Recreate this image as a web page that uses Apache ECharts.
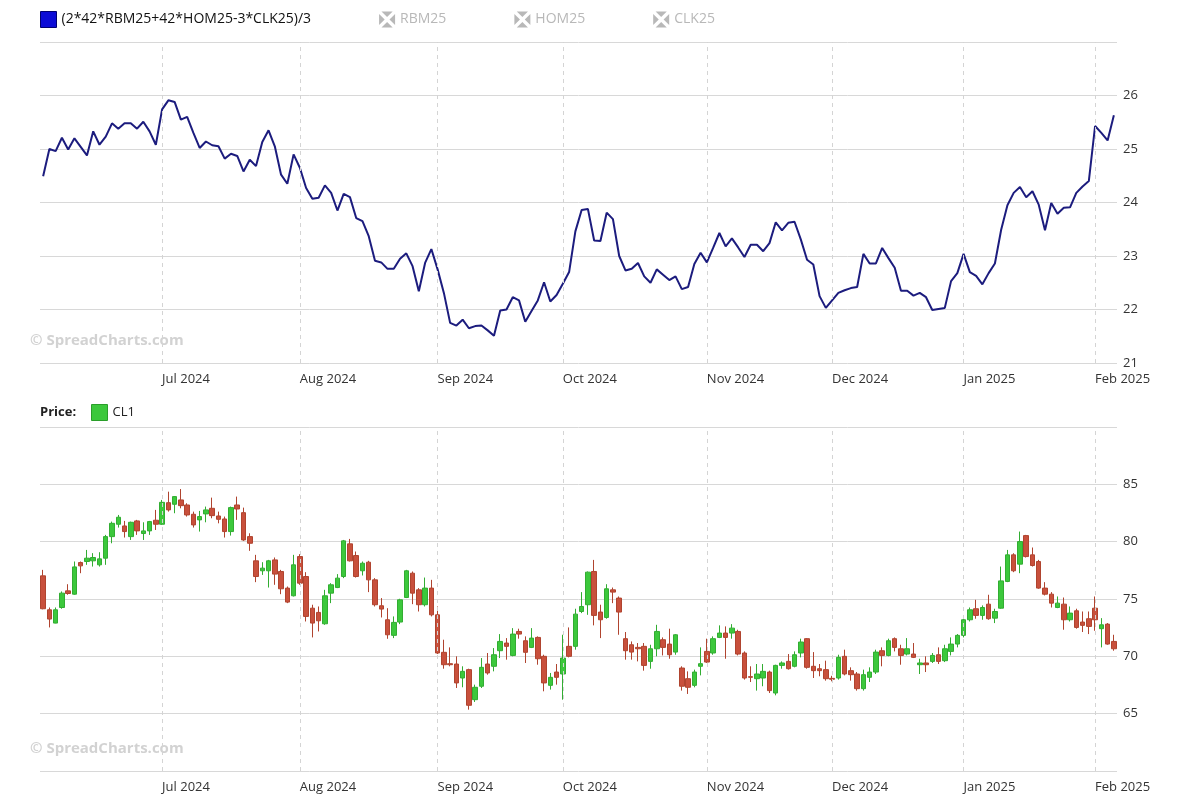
<!DOCTYPE html>
<html>
  <head>
    <meta charset="UTF-8" />
    <title>Spread vs CL1</title>
    <script src="https://cdn.jsdelivr.net/npm/echarts@6.0.0/dist/echarts.min.js"></script>
    <style>
      body { margin: 0; background: #fff; }
    </style>
  </head>
  <body>
    <div id="spreadChart" style="width: 1200px; height: 800px"></div>
  </body>
  <script>
// trading calendar (categories)
const firstDay = '2024-06-03';
const lastDay = '2025-02-06';
const holidays = ['2024-06-19', '2024-07-04', '2024-09-02', '2024-11-28', '2024-12-25', '2025-01-01', '2025-01-20'];

// spread (2*42*RBM25+42*HOM25-3*CLK25)/3, one value per trading day
const spreadValues = [
  24.49, 25.00, 24.96, 25.21, 24.99, 25.20, 25.04, 24.88, 25.33, 25.08,
  25.23, 25.48, 25.38, 25.48, 25.48, 25.38, 25.51, 25.33, 25.08, 25.74,
  25.91, 25.88, 25.55, 25.60, 25.30, 25.02, 25.14, 25.07, 25.05, 24.82,
  24.91, 24.87, 24.58, 24.80, 24.68, 25.13, 25.35, 25.05, 24.52, 24.35,
  24.90, 24.65, 24.27, 24.07, 24.09, 24.32, 24.18, 23.85, 24.16, 24.10,
  23.71, 23.65, 23.37, 22.91, 22.88, 22.76, 22.76, 22.95, 23.05, 22.81,
  22.34, 22.87, 23.13, 22.75, 22.31, 21.75, 21.70, 21.81, 21.65, 21.69,
  21.70, 21.61, 21.51, 21.98, 22.00, 22.23, 22.17, 21.77, 21.97, 22.17,
  22.51, 22.15, 22.27, 22.48, 22.70, 23.46, 23.86, 23.88, 23.29, 23.28,
  23.81, 23.69, 23.00, 22.73, 22.76, 22.87, 22.62, 22.50, 22.75, 22.65,
  22.55, 22.62, 22.38, 22.42, 22.85, 23.06, 22.88, 23.15, 23.43, 23.18,
  23.33, 23.16, 22.98, 23.21, 23.21, 23.09, 23.24, 23.63, 23.48, 23.62,
  23.64, 23.31, 22.93, 22.84, 22.25, 22.03, 22.17, 22.31, 22.36, 22.40,
  22.42, 23.04, 22.86, 22.86, 23.15, 22.96, 22.78, 22.35, 22.35, 22.26,
  22.31, 22.23, 21.99, 22.01, 22.03, 22.53, 22.68, 23.04, 22.70, 22.63,
  22.47, 22.68, 22.86, 23.49, 23.95, 24.18, 24.29, 24.10, 24.21, 23.96,
  23.48, 23.99, 23.79, 23.90, 23.91, 24.18, 24.30, 24.40, 25.43, 25.30,
  25.16, 25.63
];

// CL1 daily candles
const clOpen = [
  77.02, 74.06, 72.90, 74.26, 75.71, 75.42, 78.18, 78.27, 78.33, 77.98,
  78.56, 80.44, 81.52, 81.37, 80.44, 81.81, 80.71, 80.94, 81.87, 81.52,
  83.40, 83.26, 83.64, 83.20, 82.39, 81.90, 82.42, 82.91, 82.24, 81.98,
  80.88, 83.20, 82.53, 80.44, 78.33, 77.46, 77.46, 78.41, 77.40, 75.95,
  75.28, 78.70, 76.96, 74.20, 73.83, 72.84, 75.51, 76.00, 76.96, 79.81,
  78.79, 77.46, 78.21, 76.67, 74.41, 73.19, 71.83, 72.99, 75.13, 77.25,
  75.80, 74.50, 75.95, 73.62, 70.35, 69.36, 69.33, 68.11, 68.84, 66.22,
  67.39, 69.33, 69.13, 70.49, 71.16, 70.08, 72.17, 71.36, 70.78, 71.65,
  70.00, 67.47, 68.63, 68.46, 70.87, 70.87, 73.91, 74.50, 77.40, 73.86,
  73.39, 75.80, 75.08, 71.54, 71.01, 70.78, 70.87, 69.56, 70.66, 71.45,
  71.07, 70.37, 68.98, 68.05, 67.47, 69.13, 70.43, 70.29, 71.65, 72.03,
  72.03, 72.17, 70.29, 68.23, 68.05, 68.11, 68.63, 66.80, 69.21, 69.56,
  69.13, 70.29, 71.54, 69.13, 68.92, 68.84, 68.08, 68.11, 70.00, 68.75,
  68.46, 67.18, 68.17, 68.63, 70.49, 70.08, 71.54, 70.66, 70.20, 70.20,
  69.27, 69.42, 69.56, 70.14, 69.62, 70.43, 71.07, 71.83, 73.19, 74.15,
  73.57, 74.55, 73.33, 74.20, 76.53, 78.85, 78.04, 80.53, 78.85, 78.27,
  75.95, 75.42, 74.26, 74.55, 73.19, 73.97, 72.99, 73.28, 74.20, 72.41,
  72.81, 71.30
];
const clClose = [
  74.15, 73.25, 74.06, 75.51, 75.48, 77.80, 77.89, 78.56, 78.62, 78.50,
  80.44, 81.60, 82.13, 80.88, 81.69, 80.94, 80.94, 81.75, 81.52, 83.43,
  82.77, 83.93, 83.14, 82.33, 81.46, 82.19, 82.77, 82.27, 81.95, 80.88,
  82.97, 82.85, 80.15, 79.86, 76.96, 77.69, 78.33, 77.17, 75.89, 74.73,
  77.98, 76.38, 73.48, 72.90, 73.10, 75.28, 76.24, 76.82, 80.07, 78.33,
  76.96, 78.12, 76.67, 74.50, 74.12, 71.88, 72.96, 74.93, 77.46, 75.51,
  74.50, 75.95, 73.62, 70.29, 69.27, 69.27, 67.68, 68.69, 65.73, 67.30,
  69.04, 68.55, 70.14, 71.30, 70.87, 71.94, 71.94, 70.35, 71.59, 69.79,
  67.68, 68.17, 68.17, 69.85, 70.00, 73.68, 74.35, 77.34, 73.57, 73.19,
  75.89, 75.60, 73.86, 70.49, 70.37, 70.66, 69.21, 70.66, 72.17, 70.78,
  70.14, 71.88, 67.39, 67.30, 68.63, 69.36, 69.50, 71.54, 72.03, 71.65,
  72.46, 70.20, 68.11, 68.17, 68.46, 68.69, 67.01, 69.21, 69.42, 68.92,
  70.14, 71.25, 69.04, 68.75, 68.75, 68.05, 68.00, 69.91, 68.46, 68.40,
  67.18, 68.40, 68.63, 70.37, 70.08, 71.36, 70.78, 70.08, 70.66, 69.91,
  69.42, 69.27, 70.08, 69.56, 70.66, 71.07, 71.83, 73.19, 74.06, 73.57,
  74.26, 73.28, 73.91, 76.58, 78.85, 77.46, 80.01, 78.70, 77.92, 75.95,
  75.42, 74.64, 74.64, 73.19, 73.77, 72.52, 72.70, 72.61, 73.19, 72.75,
  71.07, 70.66
];
const clLow = [
  74.10, 72.52, 72.88, 74.15, 75.37, 75.37, 77.25, 77.98, 77.83, 77.83,
  77.98, 79.86, 81.23, 80.36, 80.15, 80.59, 80.15, 80.59, 81.02, 81.46,
  82.62, 82.48, 82.91, 82.19, 81.23, 80.88, 81.69, 82.04, 81.60, 80.36,
  80.53, 81.90, 80.07, 79.20, 76.47, 77.10, 76.00, 76.24, 75.42, 74.64,
  75.22, 76.24, 73.04, 71.65, 72.17, 72.75, 74.64, 75.95, 76.82, 78.27,
  76.87, 77.05, 75.60, 74.35, 73.39, 71.53, 71.59, 72.81, 75.08, 74.55,
  73.91, 74.35, 73.48, 70.20, 68.92, 69.13, 67.24, 67.30, 65.35, 66.02,
  67.24, 68.40, 68.69, 69.85, 69.71, 70.00, 71.54, 69.42, 70.72, 69.27,
  66.95, 67.10, 67.53, 66.22, 69.91, 70.58, 73.77, 73.62, 72.70, 71.59,
  73.28, 74.64, 71.88, 69.71, 69.71, 69.56, 68.75, 68.92, 70.00, 70.08,
  69.79, 70.14, 67.01, 66.72, 67.30, 68.34, 69.42, 70.14, 71.59, 69.79,
  71.54, 70.08, 67.97, 67.76, 67.01, 67.39, 66.80, 66.60, 68.92, 68.84,
  69.04, 69.91, 68.92, 68.11, 68.26, 67.88, 67.82, 67.97, 68.34, 67.88,
  67.01, 67.01, 67.76, 68.46, 69.13, 70.00, 70.43, 69.27, 70.08, 69.85,
  68.46, 68.63, 69.42, 69.33, 69.50, 70.08, 70.78, 71.65, 73.04, 73.28,
  73.19, 73.19, 72.90, 74.15, 76.47, 77.34, 77.25, 78.62, 77.83, 75.89,
  75.31, 74.26, 74.20, 72.32, 73.04, 72.41, 72.12, 71.94, 72.23, 70.78,
  71.01, 70.49
];
const clHigh = [
  77.54, 74.26, 74.26, 75.66, 76.29, 78.27, 78.27, 79.28, 79.00, 79.08,
  80.59, 81.75, 82.33, 81.81, 81.75, 81.90, 81.69, 81.81, 82.77, 83.64,
  84.36, 83.98, 84.59, 83.35, 82.62, 82.68, 83.06, 83.84, 82.62, 82.19,
  83.06, 83.93, 82.97, 80.73, 78.85, 78.21, 78.41, 78.62, 77.54, 76.09,
  78.85, 78.91, 77.34, 74.50, 74.35, 75.80, 76.38, 77.17, 80.15, 80.24,
  79.14, 78.27, 78.33, 76.82, 75.08, 74.20, 73.48, 75.02, 77.54, 77.40,
  75.95, 76.87, 76.67, 74.35, 71.45, 70.78, 70.00, 69.13, 68.92, 67.53,
  69.85, 70.29, 70.72, 71.94, 71.59, 72.46, 72.41, 71.74, 72.46, 71.74,
  70.14, 68.55, 69.33, 71.88, 72.52, 74.15, 75.60, 77.40, 78.41, 74.50,
  76.29, 76.00, 75.22, 72.12, 71.30, 71.16, 71.16, 71.01, 72.75, 71.65,
  72.41, 71.94, 69.13, 68.69, 68.84, 70.78, 71.54, 71.74, 72.70, 72.61,
  72.81, 72.32, 70.43, 69.13, 69.33, 69.33, 68.75, 69.27, 69.56, 70.20,
  70.43, 71.54, 71.59, 70.37, 69.33, 69.62, 68.30, 70.14, 70.58, 69.04,
  68.63, 68.84, 69.04, 70.58, 70.78, 71.54, 71.65, 71.01, 71.59, 71.16,
  69.79, 70.00, 70.29, 70.78, 71.01, 71.65, 71.94, 73.57, 74.26, 74.93,
  74.44, 75.37, 74.15, 77.83, 79.28, 78.99, 80.88, 80.59, 79.49, 78.41,
  76.47, 75.60, 75.22, 75.13, 74.35, 74.15, 73.91, 73.91, 75.22, 73.33,
  72.90, 71.88
];

const monthNames = ['Jan', 'Feb', 'Mar', 'Apr', 'May', 'Jun', 'Jul', 'Aug', 'Sep', 'Oct', 'Nov', 'Dec'];

// build trading days list
let tradingDays = [];
let d = new Date(firstDay + 'T00:00:00Z');
const stop = new Date(lastDay + 'T00:00:00Z');
while (d <= stop) {
  const key = d.toISOString().slice(0, 10);
  const wd = d.getUTCDay();
  if (wd !== 0 && wd !== 6 && !holidays.includes(key)) tradingDays.push(key);
  d.setUTCDate(d.getUTCDate() + 1);
}

// first trading day of each month (skip the first category)
let monthStarts = [];
tradingDays.forEach((day, i) => {
  if (i > 0 && day.slice(5, 7) !== tradingDays[i - 1].slice(5, 7)) monthStarts.push(i);
});

const candleData = clOpen.map((o, i) => [o, clClose[i], clLow[i], clHigh[i]]);

const FONT = '"Open Sans", sans-serif';
const monthLines = {
  silent: true,
  symbol: ['none', 'none'],
  label: { show: false },
  lineStyle: { type: [4, 4], color: '#d4d4d4', width: 1 },
  data: monthStarts.map(i => ({ xAxis: tradingDays[i] }))
};

function xAxisFor(gridIndex) {
  return {
    type: 'category',
    gridIndex: gridIndex,
    data: tradingDays,
    boundaryGap: true,
    axisLine: { show: false },
    axisTick: { show: false },
    splitLine: { show: false },
    axisLabel: {
      interval: (idx) => monthStarts.includes(idx),
      align: 'left',
      margin: 10,
      color: '#333',
      fontSize: 13,
      fontFamily: FONT,
      formatter: (v) => monthNames[parseInt(v.slice(5, 7)) - 1] + ' ' + v.slice(0, 4)
    }
  };
}

const xIcon = 'path://M1.5,0L8.5,0L5,3.5Z M10,1.5L10,8.5L6.5,5Z M8.5,10L1.5,10L5,6.5Z M0,8.5L0,1.5L3.5,5Z';

let myChart = echarts.init(document.getElementById('spreadChart'));

myChart.setOption({
  animation: false,
  textStyle: { fontFamily: FONT },
  legend: [
    {
      left: 35,
      top: 6,
      itemWidth: 16,
      itemHeight: 16,
      itemGap: 68,
      inactiveColor: '#b8b8b8',
      textStyle: { fontSize: 14, color: '#111', fontFamily: FONT },
      selected: { RBM25: false, HOM25: false, CLK25: false },
      data: [
        { name: '(2*42*RBM25+42*HOM25-3*CLK25)/3', icon: 'rect', itemStyle: { color: '#0c0cd6', borderColor: '#000070', borderWidth: 1 } },
        { name: 'RBM25', icon: xIcon },
        { name: 'HOM25', icon: xIcon },
        { name: 'CLK25', icon: xIcon }
      ]
    },
    {
      left: 86,
      top: 399,
      itemWidth: 16,
      itemHeight: 16,
      textStyle: { fontSize: 13, color: '#222', fontFamily: FONT },
      data: [
        { name: 'CL1', icon: 'rect', itemStyle: { color: '#3cc83c', borderColor: '#2a9e2a', borderWidth: 1 } }
      ]
    }
  ],
  graphic: [
    { type: 'text', left: 40, top: 406, style: { text: 'Price:', font: 'bold 13px "Open Sans"', fill: '#222' } },
    { type: 'text', left: 30, top: 333, z: -1, style: { text: '© SpreadCharts.com', font: 'bold 15px "Open Sans"', fill: '#d2d2d2' } },
    { type: 'text', left: 30, top: 741, z: -1, style: { text: '© SpreadCharts.com', font: 'bold 15px "Open Sans"', fill: '#d2d2d2' } }
  ],
  grid: [
    { left: 40, right: 83, top: 42, height: 321 },
    { left: 40, right: 83, top: 427, height: 344 }
  ],
  xAxis: [xAxisFor(0), xAxisFor(1)],
  yAxis: [
    {
      type: 'value',
      gridIndex: 0,
      position: 'right',
      min: 21,
      max: 27,
      interval: 1,
      axisLine: { show: false },
      axisTick: { show: false },
      splitLine: { lineStyle: { color: '#d8d8d8' } },
      axisLabel: { showMaxLabel: false, margin: 6, color: '#333', fontSize: 13, fontFamily: FONT }
    },
    {
      type: 'value',
      gridIndex: 1,
      position: 'right',
      min: 60,
      max: 90,
      interval: 5,
      axisLine: { show: false },
      axisTick: { show: false },
      splitLine: { lineStyle: { color: '#d8d8d8' } },
      axisLabel: { showMaxLabel: false, showMinLabel: false, margin: 6, color: '#333', fontSize: 13, fontFamily: FONT }
    }
  ],
  series: [
    {
      name: '(2*42*RBM25+42*HOM25-3*CLK25)/3',
      type: 'line',
      xAxisIndex: 0,
      yAxisIndex: 0,
      data: spreadValues,
      symbol: 'none',
      color: '#1c1c7e',
      lineStyle: { width: 2, color: '#1c1c7e' },
      markLine: monthLines
    },
    { name: 'RBM25', type: 'line', xAxisIndex: 0, yAxisIndex: 0, data: [] },
    { name: 'HOM25', type: 'line', xAxisIndex: 0, yAxisIndex: 0, data: [] },
    { name: 'CLK25', type: 'line', xAxisIndex: 0, yAxisIndex: 0, data: [] },
    {
      name: 'CL1',
      type: 'candlestick',
      xAxisIndex: 1,
      yAxisIndex: 1,
      data: candleData,
      barWidth: 5,
      itemStyle: {
        color: '#3cc83c',
        color0: '#c8503c',
        borderColor: '#32ad32',
        borderColor0: '#b0442f',
        borderWidth: 1
      },
      markLine: monthLines
    }
  ]
});
  </script>
</html>
